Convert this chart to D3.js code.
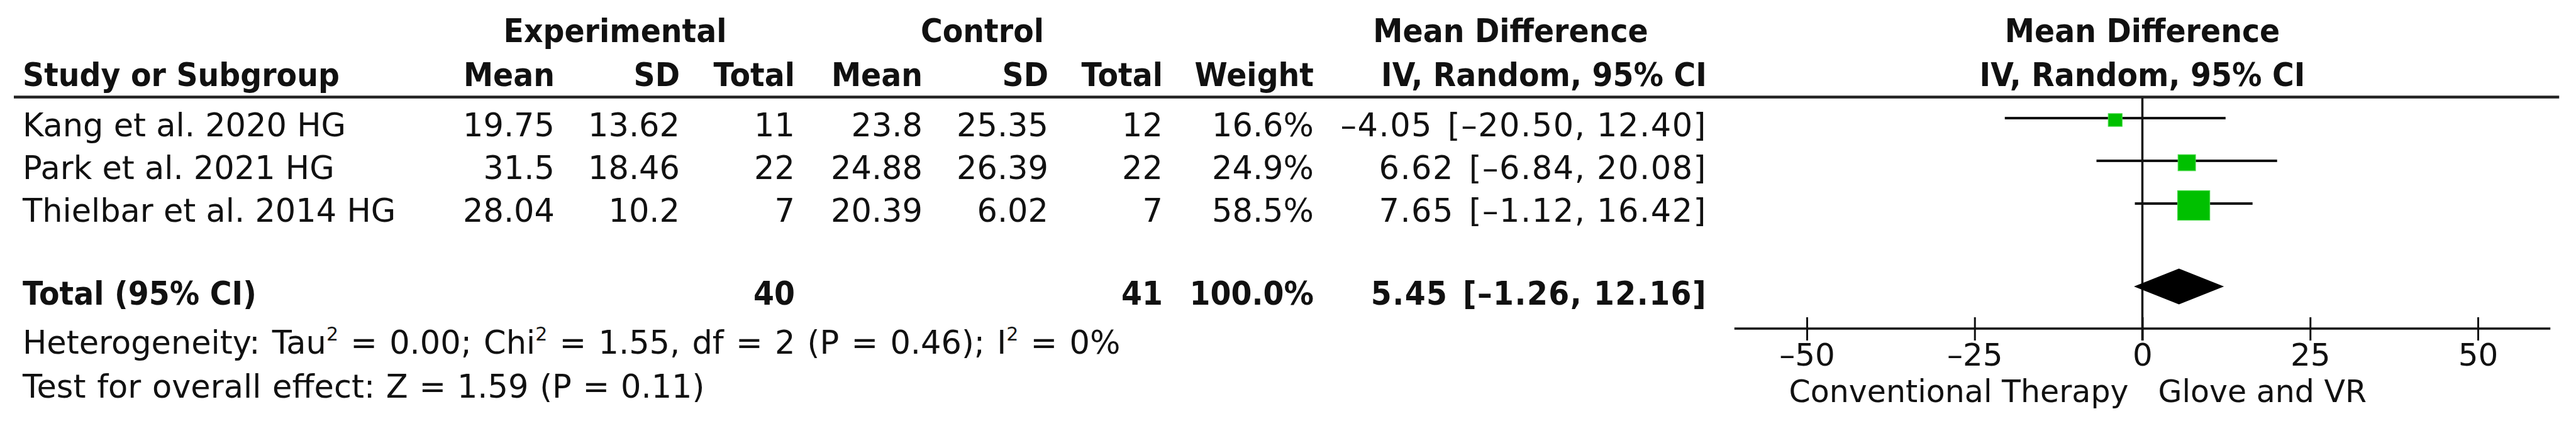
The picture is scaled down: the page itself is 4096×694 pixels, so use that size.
<!DOCTYPE html>
<html><head><meta charset="utf-8">
<script src="https://cdn.jsdelivr.net/npm/d3@7"></script>
<style>
html,body{margin:0;padding:0;background:#fff;}
svg{display:block;font-family:"DejaVu Sans",Verdana,sans-serif;}
</style>
</head><body>
<svg id="chart" width="4096" height="694"></svg>
<script>
// ---------------- data ----------------
const studies   = ["Kang et al. 2020 HG", "Park et al. 2021 HG", "Thielbar et al. 2014 HG"];
const expMean   = ["19.75", "31.5", "28.04"];
const expSD     = ["13.62", "18.46", "10.2"];
const expN      = [11, 22, 7];
const ctrlMean  = ["23.8", "24.88", "20.39"];
const ctrlSD    = ["25.35", "26.39", "6.02"];
const ctrlN     = [12, 22, 7];
const weights   = [16.6, 24.9, 58.5];
const md        = [-4.05, 6.62, 7.65];
const ciLow     = [-20.50, -6.84, -1.12];
const ciHigh    = [12.40, 20.08, 16.42];

const totalLabel  = "Total (95% CI)";
const totalExpN   = 40;
const totalCtrlN  = 41;
const totalWeight = 100.0;
const pooledMD    = 5.45;
const pooledLow   = -1.26;
const pooledHigh  = 12.16;

const heteroParts = [["Heterogeneity: Tau", false], ["2", true], [" = 0.00; Chi", false], ["2", true],
                     [" = 1.55, df = 2 (P = 0.46); I", false], ["2", true], [" = 0%", false]];
const overallTest = "Test for overall effect: Z = 1.59 (P = 0.11)";

const groupHeaders = ["Experimental", "Control", "Mean Difference", "Mean Difference"];
const colHeaders   = ["Study or Subgroup", "Mean", "SD", "Total", "Mean", "SD", "Total", "Weight", "IV, Random, 95% CI", "IV, Random, 95% CI"];
const axisTicks    = [-50, -25, 0, 25, 50];
const axisExtent   = [-60.8, 60.8];
const favoursLeft  = "Conventional Therapy";
const favoursRight = "Glove and VR";

// ---------------- layout ----------------
const svg = d3.select("#chart");
svg.append("rect").attr("width", 4096).attr("height", 694).attr("fill", "#fff");

const loc = d3.formatLocale({decimal: ".", thousands: ",", grouping: [3], currency: ["", ""], minus: "\u2013"});
const f2 = loc.format(".2f");
const f1 = d3.format(".1f");
const fTick = loc.format("d");

const REG = 51, BOLD = 51, BSCALE = 0.93;
const ink = "#111";

// column right edges
const colX = {study: 36, eMean: 882, eSD: 1081, eN: 1264, cMean: 1467, cSD: 1667, cN: 1849, w: 2089, ci: 2714};
const rowY = d3.scaleLinear().domain([0, 1]).range([217, 285]); // baseline of study rows
const totalY = 485, heteroY = 563, testY = 633;
const head1Y = 67, head2Y = 137;

const x = d3.scaleLinear().domain([-50, 50]).range([2873, 3940]);
const boxW = d3.scaleLinear().domain(d3.extent(weights)).range([22, 51]);

function txt(str, px, py, anchor) {
  return svg.append("text").attr("x", px).attr("y", py).attr("text-anchor", anchor || "start")
    .attr("font-size", REG).attr("fill", ink).text(str);
}
function btxt(str, px, py, anchor) {
  return svg.append("text").attr("transform", `translate(${px},${py}) scale(${BSCALE},1)`)
    .attr("text-anchor", anchor || "start").attr("font-weight", "bold")
    .attr("font-size", BOLD).attr("fill", ink).text(str);
}
function ciText(sel, m, lo, hi) {
  sel.attr("letter-spacing", 1.5);
  sel.append("tspan").text(f2(m) + " ");
  sel.append("tspan").attr("dx", 6).text(`[${f2(lo)}, ${f2(hi)}]`);
  return sel;
}

// headers
btxt(groupHeaders[0], 978, head1Y, "middle");
btxt(groupHeaders[1], 1562, head1Y, "middle");
btxt(groupHeaders[2], 2402, head1Y, "middle");
btxt(groupHeaders[3], x(0), head1Y, "middle");

btxt(colHeaders[0], colX.study, head2Y, "start");
btxt(colHeaders[1], colX.eMean, head2Y, "end");
btxt(colHeaders[2], colX.eSD, head2Y, "end");
btxt(colHeaders[3], colX.eN, head2Y, "end");
btxt(colHeaders[4], colX.cMean, head2Y, "end");
btxt(colHeaders[5], colX.cSD, head2Y, "end");
btxt(colHeaders[6], colX.cN, head2Y, "end");
btxt(colHeaders[7], colX.w, head2Y, "end");
btxt(colHeaders[8], colX.ci, head2Y, "end");
btxt(colHeaders[9], x(0), head2Y, "middle");

// header rule
svg.append("line").attr("x1", 22).attr("x2", x(axisExtent[1]) + 14)
  .attr("y1", 154.5).attr("y2", 154.5).attr("stroke", "#222").attr("stroke-width", 4.5);

// zero line
svg.append("line").attr("x1", x(0)).attr("x2", x(0)).attr("y1", 156).attr("y2", 542)
  .attr("stroke", ink).attr("stroke-width", 3.5);

// study rows
studies.forEach((s, i) => {
  const by = rowY(i);
  txt(s, colX.study, by);
  txt(expMean[i], colX.eMean, by, "end");
  txt(expSD[i], colX.eSD, by, "end");
  txt(expN[i], colX.eN, by, "end");
  txt(ctrlMean[i], colX.cMean, by, "end");
  txt(ctrlSD[i], colX.cSD, by, "end");
  txt(ctrlN[i], colX.cN, by, "end");
  txt(f1(weights[i]) + "%", colX.w, by, "end");
  ciText(svg.append("text").attr("x", colX.ci).attr("y", by).attr("text-anchor", "end")
    .attr("font-size", REG).attr("fill", ink), md[i], ciLow[i], ciHigh[i]);

  const ly = by - 29;
  svg.append("line").attr("x1", x(ciLow[i])).attr("x2", x(ciHigh[i]))
    .attr("y1", ly).attr("y2", ly).attr("stroke", ink).attr("stroke-width", 4);
  const w = boxW(weights[i]), h = w * 0.92;
  svg.append("rect").attr("x", x(md[i]) - w / 2).attr("y", ly + 3 - h / 2)
    .attr("width", w).attr("height", h)
    .attr("fill", "#00c000").attr("stroke", "#40d840").attr("stroke-width", 1.2);
});

// total row
btxt(totalLabel, colX.study, totalY, "start");
btxt(String(totalExpN), colX.eN, totalY, "end");
btxt(String(totalCtrlN), colX.cN, totalY, "end");
btxt(f1(totalWeight) + "%", colX.w, totalY, "end");
ciText(btxt("", colX.ci, totalY, "end"), pooledMD, pooledLow, pooledHigh);

const dy = totalY - 29, dh = 28.5;
svg.append("polygon")
  .attr("points", [[x(pooledLow), dy], [x(pooledMD), dy - dh], [x(pooledHigh), dy], [x(pooledMD), dy + dh]].map(p => p.join(",")).join(" "))
  .attr("fill", "#000");

// heterogeneity
const ht = svg.append("text").attr("x", colX.study).attr("y", heteroY).attr("font-size", REG)
  .attr("fill", ink).attr("word-spacing", 3);
let prevSup = false;
heteroParts.forEach(([t, sup]) => {
  const sp = ht.append("tspan").text(t);
  if (sup) { sp.attr("font-size", 30).attr("dy", -21); }
  else if (prevSup) { sp.attr("dy", 21); }
  prevSup = sup;
});
txt(overallTest, colX.study, testY).attr("word-spacing", 1.5);

// axis
const axis = d3.axisBottom(x).tickValues(axisTicks).tickSize(19).tickSizeOuter(0).tickFormat(fTick);
const gAxis = svg.append("g").attr("transform", "translate(0,523)").call(axis)
  .attr("font-family", null).attr("font-size", 50);
gAxis.select(".domain").remove();
gAxis.insert("line", ":first-child").attr("x1", x(axisExtent[0])).attr("x2", x(axisExtent[1]))
  .attr("y1", 0).attr("y2", 0).attr("stroke", ink).attr("stroke-width", 3.5);
gAxis.selectAll(".tick line").attr("y1", -18).attr("y2", 19).attr("stroke", ink).attr("stroke-width", 3);
gAxis.selectAll(".tick text").attr("y", 59).attr("dy", 0).attr("fill", ink);

// favours labels
svg.append("text").attr("x", x(0) - 22).attr("y", 640).attr("text-anchor", "end")
  .attr("font-size", 49).attr("fill", ink).text(favoursLeft);
svg.append("text").attr("x", x(0) + 25).attr("y", 640).attr("text-anchor", "start")
  .attr("font-size", 49).attr("fill", ink).text(favoursRight);
</script>
</body></html>
